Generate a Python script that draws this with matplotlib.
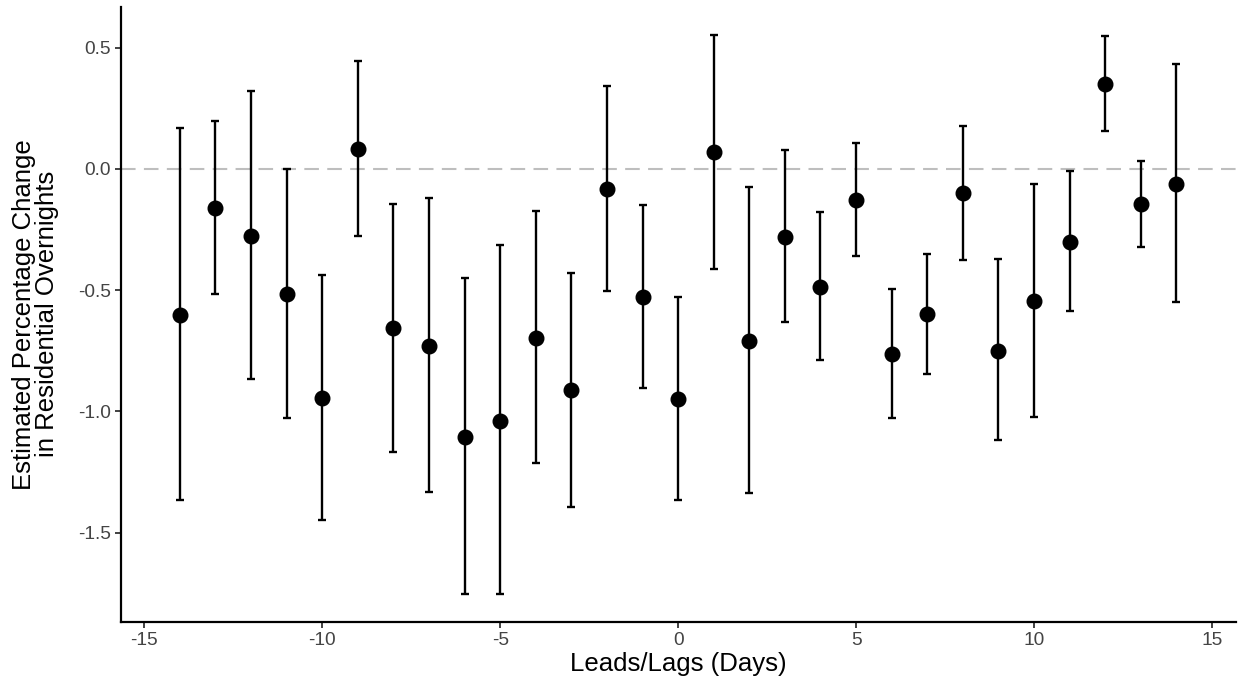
import matplotlib.pyplot as plt
import numpy as np

plt.rcParams['font.family'] = ['Liberation Sans', 'DejaVu Sans']

# event-study estimates, days relative to event
days = list(range(-14, 15))
estimate = [-0.601, -0.160, -0.275, -0.514, -0.946, 0.081, -0.656, -0.728, -1.104, -1.038,
            -0.695, -0.913, -0.082, -0.527, -0.947, 0.069, -0.709, -0.279, -0.486, -0.126,
            -0.762, -0.598, -0.098, -0.749, -0.545, -0.300, 0.350, -0.145, -0.060]
ci_upper = [0.170, 0.198, 0.320, 0.000, -0.439, 0.443, -0.143, -0.119, -0.451, -0.315,
            -0.173, -0.429, 0.344, -0.150, -0.526, 0.554, -0.075, 0.078, -0.178, 0.105,
            -0.495, -0.350, 0.178, -0.373, -0.064, -0.010, 0.549, 0.031, 0.433]
ci_lower = [-1.366, -0.514, -0.866, -1.026, -1.448, -0.278, -1.166, -1.331, -1.751, -1.754,
            -1.213, -1.393, -0.505, -0.904, -1.366, -0.412, -1.336, -0.633, -0.789, -0.359,
            -1.028, -0.845, -0.374, -1.119, -1.021, -0.586, 0.155, -0.320, -0.550]

x = np.array(days)
y = np.array(estimate)
err = [y - np.array(ci_lower), np.array(ci_upper) - y]

fig = plt.figure(figsize=(12.38, 6.89), dpi=100)
ax = fig.add_axes([0.0975, 0.0972, 0.9005, 0.8931])

ax.axhline(0, color='#BEBEBE', linewidth=1.5, linestyle=(0, (7, 4)), zorder=0)
ax.errorbar(x, y, yerr=err, fmt='none', ecolor='black', elinewidth=1.7,
            capsize=2.6, capthick=1.7, zorder=2)
ax.plot(x, y, 'o', color='black', markersize=10.5, zorder=3)

ax.set_xlim(-15.66, 15.66)
ax.set_ylim(-1.868, 0.669)
ax.set_xticks([-15, -10, -5, 0, 5, 10, 15])
ax.set_xticklabels(['-15', '-10', '-5', '0', '5', '10', '15'])
ax.set_yticks([-1.5, -1.0, -0.5, 0.0, 0.5])
ax.set_yticklabels(['-1.5', '-1.0', '-0.5', '0.0', '0.5'])

for side in ['top', 'right']:
    ax.spines[side].set_visible(False)
for side in ['left', 'bottom']:
    ax.spines[side].set_linewidth(1.6)
    ax.spines[side].set_color('black')

ax.tick_params(axis='both', direction='out', length=4, width=1.3, color='#333333',
               labelsize=13.8, labelcolor='#444444', pad=3)

ax.set_xlabel('Leads/Lags (Days)', fontsize=18.5, color='black', labelpad=2)
ax.set_ylabel('Estimated Percentage Change\nin Residential Overnights', fontsize=18.5,
              color='black', labelpad=14, linespacing=0.95)

fig.savefig('out.png', dpi=100)
